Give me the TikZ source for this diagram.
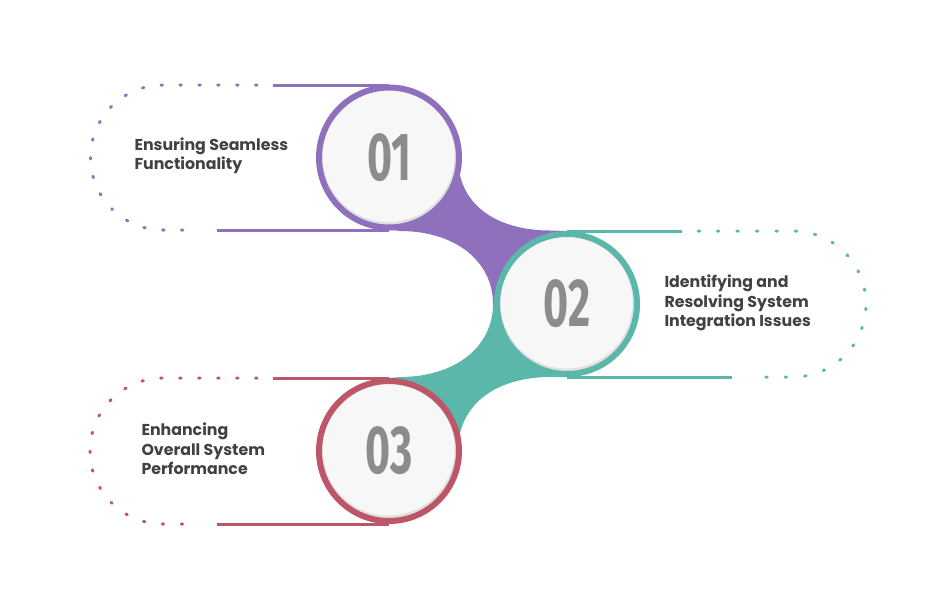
\documentclass[tikz,border=0pt]{standalone}
\usepackage{fontspec}
\setmainfont{Poppins}
\newfontfamily\numfont{Fira Sans}
\usetikzlibrary{calc, backgrounds}
\definecolor{cpurple}{HTML}{8E70BC}
\definecolor{cteal}{HTML}{5AB7AA}
\definecolor{crose}{HTML}{BE5669}
\definecolor{cface}{HTML}{F7F7F7}
\definecolor{cedge}{HTML}{E0E0E0}
\definecolor{cnum}{HTML}{8C8C8C}
\definecolor{ctext}{HTML}{414141}
\tikzset{
  every picture/.style={line width=3pt},
  stage/.style={circle, draw=#1, line width=6pt, fill=cedge, minimum size=140pt, inner sep=0pt, outer sep=0pt,
    text=cnum, font=\numfont\bfseries\fontsize{68}{68}\selectfont,
    path picture={\fill[cface] ([shift={(-0.5pt,1.5pt)}]path picture bounding box.center) circle (66pt);}},
  desc/.style={anchor=west, align=left, inner sep=0pt, text=ctext, font=\bfseries\fontsize{15.8}{19.5}\selectfont},
  solid line/.style={draw=#1, line width=3pt},
  dot line/.style 2 args={draw=#1, line width=3pt, line cap=round, dash pattern=on 1.5pt off #2},
}
\newcommand{\digits}[1]{\scalebox{0.63}[1]{#1}}
\begin{document}
\begin{tikzpicture}[x=1pt, y=-1pt]
  \useasboundingbox (0,0) rectangle (947,603);
  % stages
  \node[stage=cpurple] (c1) at (389,157.5) {\digits{01}};
  \node[stage=cteal] (c2) at (567,304) {\digits{02}};
  \node[stage=crose] (c3) at (389,451) {\digits{03}};
  % descriptions
  \node[desc] (t1) at (133,156) {Ensuring Seamless\\Functionality};
  \node[desc] (t2) at (663,303) {Identifying and\\Resolving System\\Integration Issues};
  \node[desc] (t3) at (140,449) {Enhancing\\Overall System\\Performance};
  % ends of the tracks
  \coordinate (a1) at (273,85);
  \coordinate (b1) at (217,230);
  \coordinate (a2) at (682,231);
  \coordinate (b2) at (732,377);
  \coordinate (a3) at (273,378);
  \coordinate (b3) at (217,524);
  \begin{scope}[on background layer]
    % necks between the circles
    \fill[cpurple] (c1.center) -- ($(c1)+(71,18)$) .. controls ($(c1)+(81,58)$) and ($(c1)+(121,73)$) .. ($(c1)+(161,73)$)
      -- ($(c2)+(0,-73)$) -- (c2.center) -- ($(c2)+(-74,0)$)
      .. controls ($(c2)+(-74,-43)$) and ($(c2)+(-112,-73)$) .. ($(c2)+(-167,-73)$) -- ($(c1)+(0,72)$) -- cycle;
    \fill[cteal] (c3.center) -- ($(c3)+(71,-18)$) .. controls ($(c3)+(81,-58)$) and ($(c3)+(121,-74)$) .. ($(c3)+(161,-74)$)
      -- ($(c2)+(0,73)$) -- (c2.center) -- ($(c2)+(-74,0)$)
      .. controls ($(c2)+(-74,43)$) and ($(c2)+(-112,73)$) .. ($(c2)+(-167,73)$) -- ($(c3)+(0,-73)$) -- cycle;
    % tracks
    \draw[solid line=cpurple] (a1) -- (a1 -| c1);
    \draw[solid line=cpurple] (b1) -- (b1 -| c1);
    \draw[dot line={cpurple}{17.4pt}] ([xshift=-16pt]a1) -- ++(-94,0) arc[start angle=270, end angle=90, radius=72.5] -- ([xshift=-17pt]b1);
    \draw[solid line=cteal] (a2) -- (a2 -| c2);
    \draw[solid line=cteal] (b2) -- (b2 -| c2);
    \draw[dot line={cteal}{17.95pt}] ([xshift=16pt]a2) -- ++(95,0) arc[start angle=-90, end angle=90, radius=73] -- ([xshift=16pt]b2);
    \draw[solid line=crose] (a3) -- (a3 -| c3);
    \draw[solid line=crose] (b3) -- (b3 -| c3);
    \draw[dot line={crose}{17.47pt}] ([xshift=-16pt]a3) -- ++(-94,0) arc[start angle=270, end angle=90, radius=73] -- ([xshift=-17pt]b3);
  \end{scope}
\end{tikzpicture}
\end{document}
